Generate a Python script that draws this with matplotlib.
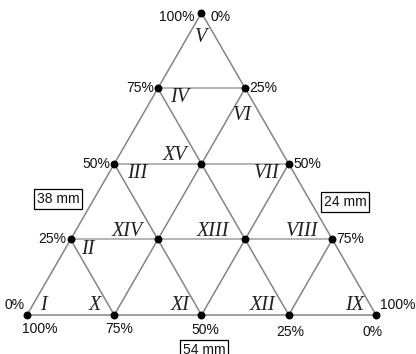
import matplotlib
matplotlib.use("Agg")
import matplotlib.pyplot as plt
import numpy as np

# ======================== data ==============================
steps = [0, 0.25, 0.5, 0.75, 1.0]          # grid fractions along each side
left_ticks = ["0%", "25%", "50%", "75%", "100%"]      # bottom-left -> top
right_ticks = ["0%", "25%", "50%", "75%", "100%"]     # top -> bottom-right
bottom_ticks = ["100%", "75%", "50%", "25%", "0%"]    # bottom-left -> bottom-right
side_names = ["38 mm", "24 mm", "54 mm"]              # left, right, bottom
zone_names = ["I", "II", "III", "IV", "V", "VI", "VII", "VIII",
              "IX", "X", "XI", "XII", "XIII", "XIV", "XV"]

# where each zone name sits in the picture (pixel coords of the reference)
zone_px = [(43, 305), (88, 250), (137, 174), (180, 98), (201, 38),
           (242, 115), (267, 174), (302, 231), (355, 305), (95, 305),
           (180, 305), (263, 305), (213, 231), (127, 231), (175, 155)]

# ======================== geometry ==============================
H = np.sqrt(3) / 2
BL, BR, TOP = np.array([0., 0.]), np.array([1., 0.]), np.array([0.5, H])

# triangle side = 349 px, bottom-left corner at pixel (27, 315)
SIDE, X0, Y0 = 349., 27., 315.


def px(x, y):
    return (x - X0) / SIDE, (Y0 - y) / SIDE


fig = plt.figure(figsize=(4.16, 3.54), dpi=100)
ax = fig.add_axes([0, 0, 1, 1])
ax.set_xlim(-X0 / SIDE, (416 - X0) / SIDE)
ax.set_ylim((Y0 - 354) / SIDE, Y0 / SIDE)
ax.axis("off")

lc = "#858585"
lw = 1.1

# outer triangle
tri = np.array([BL, BR, TOP, BL])
ax.plot(tri[:, 0], tri[:, 1], color=lc, lw=lw, zorder=1)

# grid lines
for f in steps[1:-1]:
    # horizontal
    a = BL + f * (TOP - BL)
    b = BR + f * (TOP - BR)
    ax.plot([a[0], b[0]], [a[1], b[1]], color="#a0a0a0", lw=lw, zorder=1)
    # parallel to left side
    a = BL + f * (BR - BL)
    b = TOP + f * (BR - TOP)
    ax.plot([a[0], b[0]], [a[1], b[1]], color=lc, lw=lw, zorder=1)
    # parallel to right side
    a = BR + f * (BL - BR)
    b = TOP + f * (BL - TOP)
    ax.plot([a[0], b[0]], [a[1], b[1]], color=lc, lw=lw, zorder=1)

# nodes
nodes = []
for i, fy in enumerate(steps):
    n = len(steps) - i
    for j in range(n):
        fx = steps[j]
        nodes.append(BL + fy * (TOP - BL) + fx * (BR - BL))
nodes = np.array(nodes)
ax.scatter(nodes[:, 0], nodes[:, 1], s=22, color="black", zorder=3)

# tick labels
tfont = dict(family="Liberation Sans", fontsize=10, color="#111111")
d = 0.012
for f, t in zip(steps, left_ticks):
    p = BL + f * (TOP - BL)
    if f == 0:
        ax.text(p[0] - 0.006, p[1] + 0.028, t, ha="right", va="center", **tfont)
    elif f == 1:
        ax.text(p[0] - 0.02, p[1] - 0.012, t, ha="right", va="center", **tfont)
    else:
        ax.text(p[0] - d, p[1], t, ha="right", va="center", **tfont)
for f, t in zip(steps, right_ticks):
    p = TOP + f * (BR - TOP)
    if f == 0:
        ax.text(p[0] + 0.025, p[1] - 0.012, t, ha="left", va="center", **tfont)
    elif f == 1:
        ax.text(p[0] + 0.012, p[1] + 0.03, t, ha="left", va="center", **tfont)
    else:
        ax.text(p[0] + d, p[1], t, ha="left", va="center", **tfont)
bx = [0.037, 0.014, 0.011, 0.003, -0.011]
by = [-0.040, -0.040, -0.043, -0.049, -0.049]
for f, t, ox, oy in zip(steps, bottom_ticks, bx, by):
    p = BL + f * (BR - BL)
    ax.text(p[0] + ox, p[1] + oy, t, ha="center", va="center", **tfont)

# side name boxes
box = dict(boxstyle="square,pad=0.2", fc="white", ec="black", lw=0.9)
for (x, y), t in zip([(58, 199), (345, 202), (204, 350)], side_names):
    ax.text(*px(x, y), t, ha="center", va="center", bbox=box, **tfont)

# zone names
for (x, y), t in zip(zone_px, zone_names):
    ax.text(*px(x, y), t, ha="center", va="center", family="Liberation Serif",
            style="italic", fontsize=14.5, color="#222222")

fig.savefig("out.png", dpi=100)
